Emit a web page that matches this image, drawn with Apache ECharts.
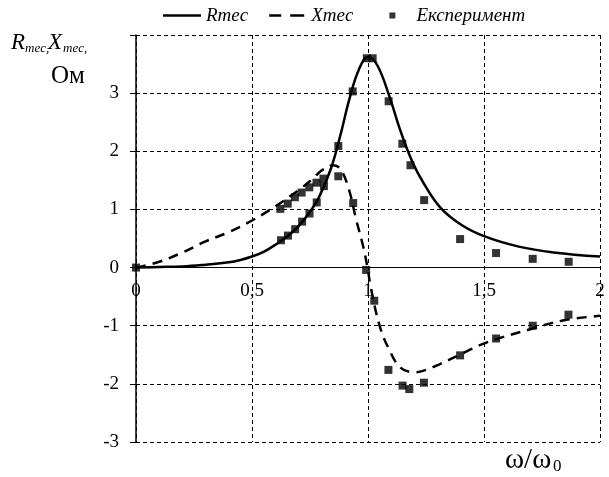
<!DOCTYPE html>
<html>
<head>
<meta charset="utf-8">
<script src="https://cdn.jsdelivr.net/npm/echarts@6/dist/echarts.min.js"></script>
<style>
    html, body { margin: 0; padding: 0; background: #fff; }
    #chart { width: 609px; height: 477px; }
</style>
</head>
<body>
<div id="chart"></div>
<script>
const fontFamily = "'Liberation Serif', 'Times New Roman', serif";

// Rmec curve (solid): [omega/omega0, Ohm]
const rCurve = [
    [0, 0], [0.1, 0.01], [0.2, 0.02], [0.3, 0.05], [0.4, 0.09], [0.45, 0.13],
    [0.5, 0.19], [0.55, 0.27], [0.6, 0.39], [0.65, 0.53], [0.7, 0.71],
    [0.75, 0.96], [0.79, 1.22], [0.84, 1.70], [0.88, 2.26], [0.92, 2.90],
    [0.96, 3.40], [1.0, 3.62], [1.04, 3.48], [1.09, 2.97], [1.14, 2.35],
    [1.19, 1.83], [1.24, 1.45], [1.31, 1.04], [1.40, 0.74], [1.50, 0.54],
    [1.65, 0.36], [1.80, 0.26], [2.0, 0.19]
];

// Xmec curve (dashed)
const xCurve = [
    [0, 0], [0.1, 0.10], [0.2, 0.26], [0.3, 0.45], [0.4, 0.61], [0.5, 0.81],
    [0.6, 1.05], [0.7, 1.33], [0.76, 1.52], [0.8, 1.67], [0.85, 1.76],
    [0.88, 1.70], [0.915, 1.38], [0.95, 0.81], [0.98, 0.35], [1.0, -0.05],
    [1.01, -0.30], [1.05, -1.0], [1.09, -1.40], [1.14, -1.72], [1.2, -1.80],
    [1.25, -1.76], [1.31, -1.66], [1.40, -1.49], [1.51, -1.29], [1.70, -1.06],
    [1.84, -0.91], [2.0, -0.83]
];

// experiment points
const rPoints = [
    [0, 0], [0.625, 0.47], [0.655, 0.55], [0.686, 0.66], [0.716, 0.79],
    [0.748, 0.93], [0.779, 1.12], [0.81, 1.40], [0.872, 2.09], [0.934, 3.03],
    [0.995, 3.6], [1.02, 3.6], [1.089, 2.86], [1.148, 2.13], [1.183, 1.76],
    [1.242, 1.16], [1.397, 0.49], [1.552, 0.25], [1.71, 0.15], [1.865, 0.10]
];

const xPoints = [
    [0.622, 1.01], [0.654, 1.10], [0.685, 1.21], [0.714, 1.29], [0.747, 1.38],
    [0.778, 1.46], [0.808, 1.53], [0.872, 1.57], [0.936, 1.11], [0.992, -0.04],
    [1.027, -0.57], [1.088, -1.76], [1.149, -2.03], [1.178, -2.09], [1.241, -1.98],
    [1.397, -1.51], [1.552, -1.22], [1.71, -1.0], [1.864, -0.81]
];

const legendNames = ["Rmec", "Xmec", "Експеримент"];

const yMin = -3;
const yMax = 4;

// legend icons, all drawn inside the same 38x8 box
const iconSolid = "path://M0,0M38,8M0,2.75h38v2.5h-38z";
const iconDashed = "path://M0,0M38,8M1,2.75h12v2.5h-12zM22,2.75h14v2.5h-14z";
const iconSquare = "path://M0,0M38,8M16,1h6v6h-6z";

function renderChart(renderTo) {
    const gridTop = 35;
    const gridBottom = 35;
    const gridHeight = 477 - gridTop - gridBottom;
    // x axis sits on the zero line, labels go with it
    const zeroOffset = -gridHeight * (0 - yMin) / (yMax - yMin);

    const gridLine = { show: true, lineStyle: { color: "#000", width: 1, type: [4, 3] } };
    const labelStyle = { color: "#000", fontFamily, fontSize: 19 };

    const option = {
        animation: false,
        backgroundColor: "#fff",
        grid: { left: 136, right: 9, top: gridTop, bottom: gridBottom },
        legend: {
            data: [
                { name: legendNames[0], icon: iconSolid },
                { name: legendNames[1], icon: iconDashed },
                { name: legendNames[2], icon: iconSquare }
            ],
            left: 163,
            top: 6,
            padding: 0,
            itemWidth: 38,
            itemHeight: 8,
            itemGap: 20,
            textStyle: { color: "#000", fontFamily, fontSize: 19, fontStyle: "italic" }
        },
        xAxis: {
            type: "value",
            min: 0,
            max: 2,
            interval: 0.5,
            offset: zeroOffset,
            axisLine: { onZero: false, lineStyle: { color: "#000", width: 1 } },
            axisTick: { show: false },
            axisLabel: Object.assign({ margin: 14, formatter: v => String(v).replace(".", ",") }, labelStyle),
            splitLine: gridLine
        },
        yAxis: {
            type: "value",
            min: yMin,
            max: yMax,
            interval: 1,
            axisLine: { show: true, lineStyle: { color: "#000", width: 1.5 } },
            axisTick: { show: true, length: 6, lineStyle: { color: "#000" } },
            axisLabel: Object.assign({ margin: 17, formatter: v => v === yMax ? "" : String(v) }, labelStyle),
            splitLine: gridLine
        },
        series: [
            {
                name: "Rmec",
                type: "line",
                data: rCurve,
                smooth: 0.4,
                symbol: "none",
                lineStyle: { color: "#000", width: 2.5, type: "solid" },
                itemStyle: { color: "#000" },
                z: 3
            },
            {
                name: "Xmec",
                type: "line",
                data: xCurve,
                smooth: 0.4,
                symbol: "none",
                lineStyle: { color: "#000", width: 2.5, type: [10, 7] },
                itemStyle: { color: "#000" },
                z: 3
            },
            {
                name: "Експеримент",
                type: "scatter",
                data: rPoints,
                symbol: "rect",
                symbolSize: 8,
                itemStyle: { color: "#000" },
                z: 4
            },
            {
                name: "Експеримент",
                type: "scatter",
                data: xPoints,
                symbol: "rect",
                symbolSize: 8,
                itemStyle: { color: "#000" },
                z: 4
            }
        ],
        graphic: [
            text("R", 11, 43, 23, "italic"),
            text("mec,", 25, 49, 13, "italic"),
            text("X", 48, 43, 23, "italic"),
            text("mec,", 63, 49, 13, "italic"),
            text("Ом", 51, 76, 25, "normal"),
            text("ω/ω", 505, 460, 29, "normal"),
            text("0", 553, 467, 17, "normal")
        ]
    };

    const chart = echarts.init(renderTo, null, { renderer: "canvas" });
    chart.setOption(option);

    function text(str, x, y, size, style) {
        return {
            type: "text",
            left: x,
            top: y - size / 2,
            style: {
                text: str,
                fill: "#000",
                fontFamily,
                fontSize: size,
                fontStyle: style
            }
        };
    }
}

renderChart(document.getElementById("chart"));
</script>
</body>
</html>
